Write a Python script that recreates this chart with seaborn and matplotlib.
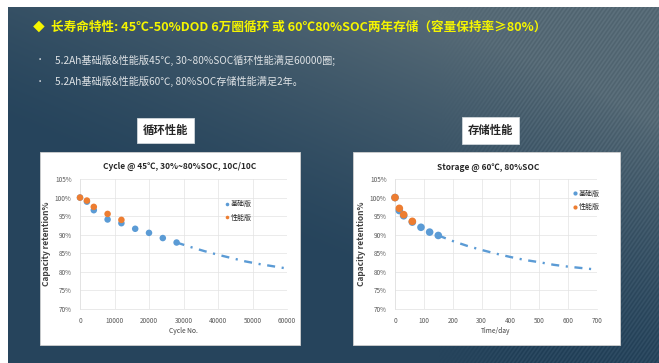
import numpy as np
import pandas as pd
import matplotlib
matplotlib.use("Agg")
import matplotlib.pyplot as plt
import seaborn as sns
from matplotlib.patches import Rectangle

sns.set_theme(style="white")
plt.rcParams['font.family'] = ['Noto Sans CJK SC', 'DejaVu Sans']

# ---- data -------------------------------------------------------------
series_names = ["基础版", "性能版"]
series_colors = ["#5b9bd5", "#ed7d31"]

cycle_base_x = [0, 2000, 4000, 8000, 12000, 16000, 20000, 24000, 28000]
cycle_base_y = [100.0, 98.9, 96.6, 94.1, 93.1, 91.6, 90.5, 89.1, 87.9]
cycle_perf_x = [0, 2000, 4000, 8000, 12000]
cycle_perf_y = [100.0, 99.2, 97.5, 95.6, 94.0]
cycle_fit_x = [28000, 32000, 36000, 40000, 44000, 48000, 52000, 56000, 60000]
cycle_fit_y = [87.9, 86.7, 85.6, 84.6, 83.7, 82.8, 82.1, 81.5, 80.9]

storage_base_x = [0, 15, 30, 60, 90, 120, 150]
storage_base_y = [100.0, 96.5, 95.1, 93.4, 92.0, 90.7, 89.8]
storage_perf_x = [0, 15, 30, 60]
storage_perf_y = [100.0, 97.1, 95.4, 93.6]
storage_fit_x = [150, 200, 250, 300, 350, 400, 450, 500, 550, 600, 650, 700]
storage_fit_y = [89.8, 88.3, 87.0, 85.9, 84.9, 84.0, 83.2, 82.6, 81.9, 81.4, 81.0, 80.6]

y_ticks = [70, 75, 80, 85, 90, 95, 100, 105]
cycle_ticks = [0, 10000, 20000, 30000, 40000, 50000, 60000]
storage_ticks = [0, 100, 200, 300, 400, 500, 600, 700]

headline = "长寿命特性: 45℃-50%DOD 6万圈循环 或 60℃80%SOC两年存储（容量保持率≥80%）"
bullets = ["5.2Ah基础版&性能版45℃, 30~80%SOC循环性能满足60000圈;",
           "5.2Ah基础版&性能版60℃, 80%SOC存储性能满足2年。"]
box_labels = ["循环性能", "存储性能"]
chart_titles = ["Cycle @ 45℃, 30%~80%SOC, 10C/10C", "Storage @ 60℃, 80%SOC"]
x_labels = ["Cycle No.", "Time/day"]
y_label = "Capacity retention%"

W, H = 659, 363
fig = plt.figure(figsize=(W / 100, H / 100), dpi=100)
fig.patch.set_facecolor("white")


def fx(px):
    return px / W


def fy(py):
    return 1 - py / H


# ---- slide background --------------------------------------------------
bg_ax = fig.add_axes([fx(8), 0, 1 - fx(8), 1 - 7 / H])
bg_ax.set_zorder(-5)
bh, bw = H - 7, W - 8
yy, xx = np.mgrid[0:bh, 0:bw].astype(float)
dark = np.array([38, 68, 92]) / 255
light = np.array([86, 106, 118]) / 255
w = np.clip(0.95 * xx / bw - 1.25 * yy / bh + 0.42, 0, 1) ** 1.3
wedge = np.clip((xx - 470 - 1.3 * yy) / 60, 0, 1) * np.clip(1 - yy / 160, 0, 1) * 0.35
w = np.clip(w + wedge, 0, 1)
stripes = 0.025 * np.sin((xx + 0.7 * yy) * 2 * np.pi / 4.0) * np.clip((xx - 430) / 80, 0, 1)
img = dark[None, None, :] * (1 - w[..., None]) + light[None, None, :] * w[..., None]
img = np.clip(img + stripes[..., None], 0, 1)
bg_ax.imshow(img, aspect="auto", interpolation="bilinear")
bg_ax.set_axis_off()

# ---- headline and bullets ---------------------------------------------
fig.text(fx(33), fy(27), "◆", color="#f5f500", fontsize=8.5, va="center", ha="left")
fig.text(fx(51), fy(27), headline, color="#f5f500", fontsize=9.1,
         fontweight="bold", va="center", ha="left")
for i, line in enumerate(bullets):
    yv = 60 + i * 21
    fig.text(fx(36), fy(yv), "•", color="#dfe3e6", fontsize=6, va="center", ha="left")
    fig.text(fx(55), fy(yv), line, color="#dfe3e6", fontsize=7.3, va="center", ha="left")

# ---- section labels -----------------------------------------------------
for (x0, x1, y0, y1), lab in zip([(137, 194, 118, 143), (462, 519, 117, 144)], box_labels):
    fig.patches.append(Rectangle((fx(x0), fy(y1)), fx(x1 - x0), (y1 - y0) / H,
                                 transform=fig.transFigure, facecolor="white",
                                 edgecolor="#cfd6db", lw=0.6, zorder=1))
    fig.text(fx((x0 + x1) / 2), fy((y0 + y1) / 2), lab, color="#262626", fontsize=8.2,
             fontweight="bold", ha="center", va="center", zorder=2)

# ---- chart panels -------------------------------------------------------
for x0, x1 in [(40, 300), (353, 620)]:
    fig.patches.append(Rectangle((fx(x0), fy(345)), fx(x1 - x0), (345 - 152) / H,
                                 transform=fig.transFigure, facecolor="white",
                                 edgecolor="#d0d0d0", lw=0.6, zorder=1))


def make_frame(bx, by, px, py, fx_, fy_):
    rows = [(x, y, series_names[0]) for x, y in zip(bx, by)]
    rows += [(x, y, series_names[1]) for x, y in zip(px, py)]
    pts = pd.DataFrame(rows, columns=["x", "y", "series"])
    fit = pd.DataFrame({"x": fx_, "y": fy_})
    return pts, fit


charts = [
    dict(rect=(80, 287), xlim=(0, 60000), ticks=cycle_ticks, size=22,
         data=make_frame(cycle_base_x, cycle_base_y, cycle_perf_x, cycle_perf_y,
                         cycle_fit_x, cycle_fit_y),
         title_xy=(180, 166), legend_xy=(0.68, 0.86), xlabel_y=331),
    dict(rect=(395, 597), xlim=(0, 700), ticks=storage_ticks, size=30,
         data=make_frame(storage_base_x, storage_base_y, storage_perf_x, storage_perf_y,
                         storage_fit_x, storage_fit_y),
         title_xy=(488, 168), legend_xy=(0.86, 0.94), xlabel_y=331),
]

for i, c in enumerate(charts):
    x0, x1 = c["rect"]
    ax = fig.add_axes([fx(x0), fy(309), fx(x1 - x0), 130 / H])
    ax.set_zorder(3)
    ax.set_facecolor("none")
    pts, fit = c["data"]
    sns.lineplot(data=fit, x="x", y="y", ax=ax, color=series_colors[0], lw=1.7,
                 linestyle=(0, (3.4, 2.8, 0.9, 2.8)), legend=False, zorder=3)
    sns.scatterplot(data=pts, x="x", y="y", hue="series", hue_order=series_names,
                    palette=series_colors, s=c["size"], edgecolor="none", ax=ax,
                    zorder=4, clip_on=False)
    ax.set_xlim(*c["xlim"])
    ax.set_ylim(70, 105)
    ax.set_xticks(c["ticks"])
    ax.set_xticklabels([str(t) for t in c["ticks"]])
    ax.set_yticks(y_ticks)
    ax.set_yticklabels([f"{t}%" for t in y_ticks])
    ax.tick_params(axis="both", length=0, labelsize=4.6, labelcolor="#595959", pad=6)
    ax.grid(True, color="#e3e3e3", lw=0.5)
    for side in ["top", "right"]:
        ax.spines[side].set_visible(False)
    for side in ["left", "bottom"]:
        ax.spines[side].set_color("#e0e0e0")
        ax.spines[side].set_linewidth(0.5)
    ax.set_xlabel("")
    ax.set_ylabel(y_label, fontsize=6.0, fontweight="bold", color="#404040", labelpad=3)
    fig.text(fx((x0 + x1) / 2), fy(c["xlabel_y"]), x_labels[i], fontsize=4.8,
             color="#404040", ha="center", va="center", zorder=4)
    fig.text(fx(c["title_xy"][0]), fy(c["title_xy"][1]), chart_titles[i], fontsize=6.0,
             fontweight="bold", color="#262626", ha="center", va="center", zorder=4)
    ax.legend(loc="upper left", bbox_to_anchor=c["legend_xy"], frameon=False,
              fontsize=5.0, markerscale=0.55, handletextpad=0.1, labelspacing=0.8,
              borderaxespad=0, handlelength=1)

fig.savefig("out.png", dpi=100)
